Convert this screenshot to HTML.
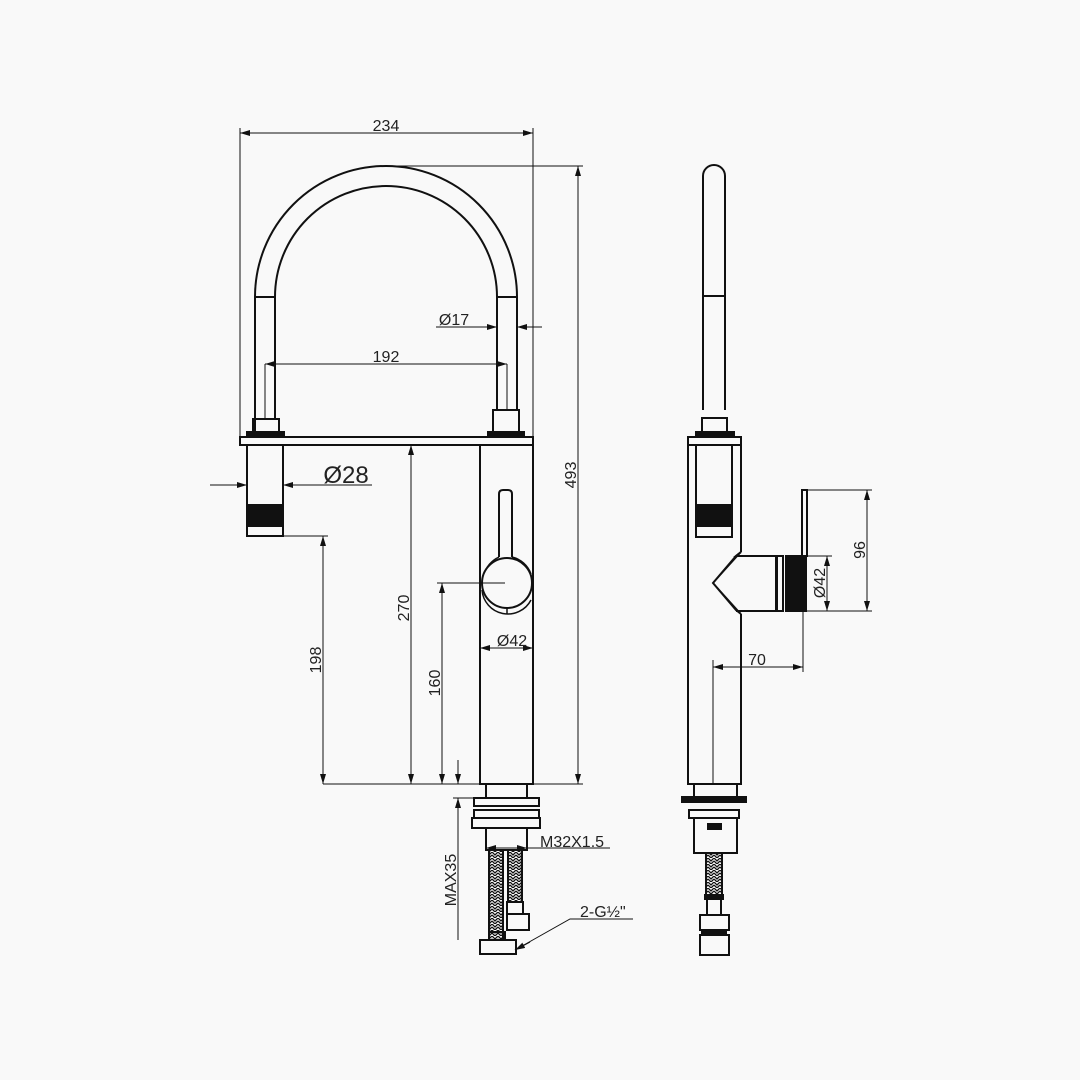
<!DOCTYPE html>
<html><head><meta charset="utf-8"><style>
html,body{margin:0;padding:0;background:#f9f9f9}
svg{display:block}
text{font-family:"Liberation Sans",sans-serif;fill:#222}
</style></head><body>
<svg width="1080" height="1080" viewBox="0 0 1080 1080" xmlns="http://www.w3.org/2000/svg">
<defs>
<marker id="a" viewBox="0 0 10 6" refX="10" refY="3" markerWidth="10" markerHeight="6" orient="auto-start-reverse" markerUnits="userSpaceOnUse"><path d="M0,0L10,3L0,6z" fill="#111"/></marker>
<pattern id="br" width="6" height="6" patternUnits="userSpaceOnUse"><path d="M0,0L3,3L6,0M0,3L3,6L6,3" stroke="#111" stroke-width="1.3" fill="none"/></pattern>
</defs>
<rect width="1080" height="1080" fill="#f9f9f9"/>
<g fill="none" stroke="#111" stroke-width="2">
<path d="M255,432 L255,297 A131,131 0 0 1 517,297 L517,410"/>
<path d="M275,420 L275,297 A111,111 0 0 1 497,297 L497,410"/>
<line x1="255" y1="297" x2="275" y2="297"/><line x1="497" y1="297" x2="517" y2="297"/>
<rect x="253" y="419" width="26" height="13"/>
<rect x="493" y="410" width="26" height="22"/>
<rect x="247" y="432" width="37" height="5" fill="#111"/>
<rect x="488" y="432" width="36" height="5" fill="#111"/>
<rect x="240" y="437" width="293" height="8"/>
<rect x="247" y="445" width="36" height="91"/>
<rect x="247" y="505" width="36" height="21" fill="#111"/>
<rect x="480" y="445" width="53" height="339"/>
<path d="M499,557 L499,494 Q499,490 503,490 L508,490 Q512,490 512,494 L512,557"/>
<path d="M499,557 A27,27 0 0 0 484,575 M512,557 A27,27 0 0 1 531,574" stroke-width="1.5"/>
<circle cx="507" cy="583" r="25" fill="#f9f9f9"/>
<path d="M482,590 A26,26 0 0 0 531,600" stroke-width="1.5"/>
<line x1="507" y1="608" x2="507" y2="614" stroke-width="1.5"/>
<rect x="486" y="784" width="41" height="14"/>
<rect x="474" y="798" width="65" height="8"/>
<rect x="474" y="810" width="65" height="8"/>
<rect x="472" y="818" width="68" height="10"/>
<rect x="486" y="828" width="41" height="22"/>
<rect x="489" y="850" width="14" height="90" fill="url(#br)"/>
<rect x="508" y="850" width="14" height="52" fill="url(#br)"/>
<rect x="507" y="902" width="16" height="12"/>
<rect x="507" y="914" width="22" height="16"/>
<rect x="489" y="932" width="16" height="8"/>
<rect x="480" y="940" width="36" height="14"/>
<path d="M703,410 L703,176 A11,11 0 0 1 725,176 L725,410"/>
<line x1="703" y1="296" x2="725" y2="296"/>
<rect x="702" y="418" width="25" height="14"/>
<rect x="696" y="432" width="38" height="5" fill="#111"/>
<rect x="688" y="437" width="53" height="8"/>
<path d="M688,445 L688,784 L741,784 L741,614 M741,552 L741,445"/>
<rect x="696" y="445" width="36" height="92"/>
<rect x="696" y="505" width="36" height="21" fill="#111"/>
<path d="M741,552 L736,556 L713,583 L736,610 L741,614"/>
<path d="M741,552 L736,556 L776,556 L776,611 L736,611"/>
<path d="M713,583 L741,552 M713,583 L741,614" stroke-width="1.5"/>
<rect x="777" y="556" width="6" height="55"/>
<rect x="786" y="556" width="20" height="55" fill="#111"/>
<rect x="802" y="490" width="5" height="66"/>
<rect x="694" y="784" width="43" height="14"/>
<rect x="682" y="797" width="64" height="5" fill="#111"/>
<rect x="689" y="810" width="50" height="8"/>
<rect x="694" y="818" width="43" height="35"/>
<rect x="708" y="824" width="13" height="5" fill="#111"/>
<rect x="706" y="853" width="16" height="42" fill="url(#br)"/>
<rect x="705" y="895" width="18" height="4" fill="#111"/>
<rect x="707" y="899" width="14" height="16"/>
<rect x="700" y="915" width="29" height="15"/>
<rect x="702" y="930" width="24" height="5" fill="#111"/>
<rect x="700" y="935" width="29" height="20"/>
</g>
<g fill="none" stroke="#111" stroke-width="1">
<line x1="240" y1="133" x2="533" y2="133" marker-start="url(#a)" marker-end="url(#a)"/>
<line x1="240" y1="128" x2="240" y2="437"/><line x1="533" y1="128" x2="533" y2="437"/>
<line x1="386" y1="166" x2="583" y2="166"/><line x1="533" y1="784" x2="583" y2="784"/>
<line x1="578" y1="166" x2="578" y2="784" marker-start="url(#a)" marker-end="url(#a)"/>
<line x1="265" y1="364" x2="507" y2="364" marker-start="url(#a)" marker-end="url(#a)"/>
<line x1="265" y1="364" x2="265" y2="420"/><line x1="507" y1="364" x2="507" y2="410"/>
<line x1="436" y1="327" x2="497" y2="327" marker-end="url(#a)"/>
<line x1="542" y1="327" x2="517" y2="327" marker-end="url(#a)"/>
<line x1="210" y1="485" x2="247" y2="485" marker-end="url(#a)"/>
<line x1="372" y1="485" x2="283" y2="485" marker-end="url(#a)"/>
<line x1="323" y1="784" x2="480" y2="784"/>
<line x1="283" y1="536" x2="328" y2="536"/>
<line x1="323" y1="536" x2="323" y2="784" marker-start="url(#a)" marker-end="url(#a)"/>
<line x1="411" y1="445" x2="411" y2="784" marker-start="url(#a)" marker-end="url(#a)"/>
<line x1="437" y1="583" x2="505" y2="583"/>
<line x1="442" y1="583" x2="442" y2="784" marker-start="url(#a)" marker-end="url(#a)"/>
<line x1="480" y1="648" x2="533" y2="648" marker-start="url(#a)" marker-end="url(#a)"/>
<line x1="458" y1="760" x2="458" y2="784" marker-end="url(#a)"/>
<line x1="453" y1="798" x2="474" y2="798"/>
<line x1="458" y1="940" x2="458" y2="798" marker-end="url(#a)"/>
<line x1="486" y1="848" x2="527" y2="848" marker-start="url(#a)" marker-end="url(#a)"/>
<line x1="527" y1="848" x2="610" y2="848"/>
<polyline points="633,919 570,919 515,950" />
<line x1="530" y1="942" x2="515" y2="950" marker-end="url(#a)"/>
<line x1="807" y1="490" x2="872" y2="490"/><line x1="806" y1="611" x2="872" y2="611"/>
<line x1="867" y1="490" x2="867" y2="611" marker-start="url(#a)" marker-end="url(#a)"/>
<line x1="806" y1="556" x2="832" y2="556"/>
<line x1="827" y1="556" x2="827" y2="611" marker-start="url(#a)" marker-end="url(#a)"/>
<line x1="713" y1="667" x2="803" y2="667" marker-start="url(#a)" marker-end="url(#a)"/>
<line x1="713" y1="660" x2="713" y2="784"/><line x1="803" y1="611" x2="803" y2="672"/>
</g>
<g font-size="16">
<text x="386" y="131" text-anchor="middle">234</text>
<text x="386" y="362" text-anchor="middle">192</text>
<text x="454" y="325" text-anchor="middle">Ø17</text>
<text x="346" y="483" text-anchor="middle" font-size="24">Ø28</text>
<text x="512" y="646" text-anchor="middle">Ø42</text>
<text x="757" y="665" text-anchor="middle">70</text>
<text x="540" y="847">M32X1.5</text>
<text x="580" y="917">2-G½"</text>
<text transform="translate(576,475) rotate(-90)" text-anchor="middle">493</text>
<text transform="translate(409,608) rotate(-90)" text-anchor="middle">270</text>
<text transform="translate(440,683) rotate(-90)" text-anchor="middle">160</text>
<text transform="translate(321,660) rotate(-90)" text-anchor="middle">198</text>
<text transform="translate(456,880) rotate(-90)" text-anchor="middle">MAX35</text>
<text transform="translate(865,550) rotate(-90)" text-anchor="middle">96</text>
<text transform="translate(825,583) rotate(-90)" text-anchor="middle">Ø42</text>
</g>
</svg>
</body></html>
